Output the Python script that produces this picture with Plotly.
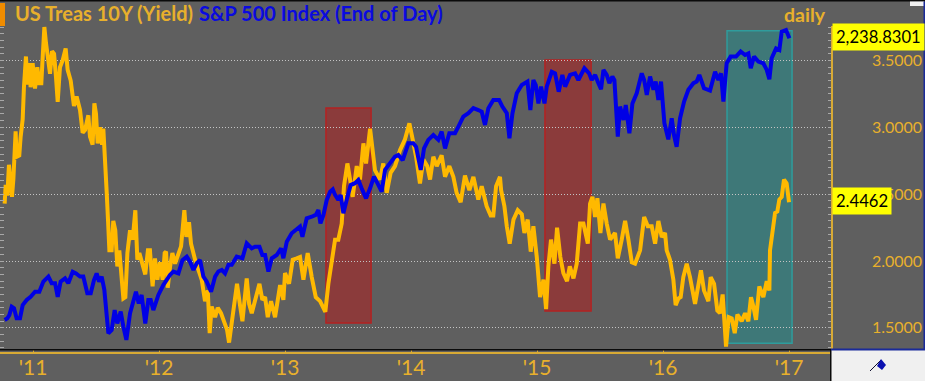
import plotly.graph_objects as go

yield_years = [2010.775,2010.783,2010.796,2010.809,2010.823,2010.833,2010.844,2010.854,2010.862,2010.870,2010.891,2010.902,2010.918,2010.928,2010.944,2010.955,2010.971,2010.981,2010.997,
2011.016,2011.034,2011.050,2011.066,2011.077,2011.090,2011.103,2011.119,2011.135,2011.151,2011.167,2011.182,2011.196,2011.214,2011.235,2011.259,2011.275,2011.299,2011.325,2011.346,2011.373,2011.394,2011.413,2011.439,2011.452,2011.473,2011.487,2011.500,2011.513,2011.532,2011.548,2011.558,2011.574,2011.585,2011.595,2011.606,2011.624,2011.637,2011.653,2011.669,2011.685,2011.701,2011.717,2011.733,2011.749,2011.770,2011.791,2011.812,2011.828,2011.844,2011.870,2011.891,2011.912,2011.928,2011.949,2011.968,2011.987,
2012.008,2012.029,2012.045,2012.056,2012.069,2012.088,2012.106,2012.127,2012.154,2012.175,2012.201,2012.217,2012.238,2012.254,2012.286,2012.313,2012.339,2012.365,2012.387,2012.402,2012.418,2012.445,2012.466,2012.492,2012.519,2012.540,2012.556,2012.577,2012.598,2012.619,2012.641,2012.662,2012.696,2012.715,2012.736,2012.762,2012.797,2012.820,2012.842,2012.863,2012.889,2012.921,2012.961,2012.987,
2013.000,2013.032,2013.061,2013.093,2013.119,2013.146,2013.180,2013.212,2013.244,2013.278,2013.320,2013.344,2013.371,2013.397,2013.423,2013.450,2013.468,2013.495,2013.516,2013.537,2013.569,2013.595,2013.622,2013.643,2013.675,2013.696,2013.714,2013.754,2013.780,2013.807,2013.838,2013.873,2013.913,2013.952,2013.987,
2014.013,2014.040,2014.071,2014.098,2014.129,2014.151,2014.177,2014.204,2014.243,2014.270,2014.304,2014.336,2014.362,2014.394,2014.428,2014.463,2014.495,2014.534,2014.561,2014.600,2014.632,2014.653,2014.675,2014.706,2014.715,2014.741,2014.760,2014.783,2014.813,2014.847,2014.879,2014.900,2014.926,2014.950,2014.971,2014.998,
2015.024,2015.051,2015.072,2015.090,2015.111,2015.138,2015.159,2015.185,2015.209,2015.238,2015.260,2015.289,2015.315,2015.342,2015.368,2015.403,2015.421,2015.440,2015.461,2015.479,2015.503,2015.527,2015.553,2015.580,2015.619,2015.641,2015.672,2015.699,2015.725,2015.752,2015.778,2015.818,2015.850,2015.879,2015.910,2015.937,2015.963,2015.990,
2016.016,2016.029,2016.055,2016.082,2016.100,2016.122,2016.140,2016.161,2016.188,2016.214,2016.254,2016.280,2016.301,2016.325,2016.360,2016.378,2016.405,2016.431,2016.452,2016.473,2016.484,2016.500,2016.521,2016.545,2016.569,2016.590,2016.624,2016.651,2016.677,2016.698,2016.717,2016.738,2016.764,2016.796,2016.823,2016.844,2016.849,2016.870,2016.889,2016.907,2016.923,2016.942,2016.960,2016.981,2017.000]
yield_values = [2.43,2.57,2.49,2.72,2.58,2.48,2.61,2.81,2.97,2.78,2.79,2.93,3.06,3.30,3.53,3.32,3.48,3.30,3.48,
3.29,3.45,3.33,3.33,3.53,3.75,3.63,3.50,3.40,3.57,3.55,3.38,3.19,3.45,3.50,3.59,3.43,3.35,3.16,3.23,3.13,2.96,2.98,3.09,2.93,2.87,3.18,3.10,2.88,3.00,2.87,2.99,2.76,2.51,2.31,2.08,2.08,2.30,2.23,1.96,2.08,1.92,1.72,1.73,2.06,2.23,2.16,2.38,2.01,2.06,1.97,1.90,2.08,2.08,1.81,2.02,1.86,
1.99,1.86,2.06,2.07,1.80,1.96,2.06,1.98,2.05,2.11,2.38,2.18,2.29,2.13,2.01,1.93,1.86,1.70,1.78,1.46,1.66,1.58,1.65,1.61,1.53,1.485,1.39,1.53,1.66,1.83,1.68,1.55,1.87,1.68,1.61,1.71,1.83,1.71,1.73,1.58,1.70,1.58,1.82,1.71,
1.91,1.83,2.01,2.02,2.03,1.86,2.06,1.88,1.73,1.70,1.62,1.83,2.01,2.16,2.16,2.28,2.56,2.73,2.61,2.48,2.71,2.61,2.88,2.73,2.99,2.83,2.68,2.61,2.73,2.51,2.66,2.71,2.83,2.91,3.03,
2.91,2.78,2.58,2.76,2.71,2.61,2.78,2.71,2.79,2.63,2.71,2.63,2.51,2.44,2.64,2.53,2.63,2.46,2.56,2.41,2.34,2.34,2.56,2.63,2.53,2.41,2.26,2.13,2.31,2.38,2.35,2.21,2.31,2.07,2.26,2.03,
1.73,1.86,1.64,1.96,2.16,1.98,2.25,2.03,1.91,1.85,1.96,1.87,1.98,2.28,2.28,2.13,2.43,2.48,2.33,2.47,2.21,2.43,2.28,2.16,2.21,2.02,2.16,2.30,2.16,1.99,1.98,2.08,2.33,2.26,2.26,2.13,2.30,2.18,
2.21,2.08,2.01,1.86,1.67,1.72,1.73,1.88,1.98,1.88,1.68,1.83,1.93,1.78,1.70,1.88,1.83,1.63,1.61,1.75,1.53,1.36,1.58,1.57,1.46,1.60,1.55,1.61,1.55,1.73,1.66,1.56,1.81,1.73,1.85,1.78,2.08,2.21,2.36,2.37,2.46,2.48,2.61,2.58,2.44]

spx_years = [2010.775,2010.796,2010.812,2010.831,2010.849,2010.870,2010.897,2010.918,2010.950,2010.981,
2011.016,2011.050,2011.082,2011.122,2011.148,2011.175,2011.196,2011.219,2011.254,2011.280,2011.315,2011.341,2011.373,2011.399,2011.431,2011.458,2011.484,2011.505,2011.524,2011.545,2011.566,2011.585,2011.598,2011.624,2011.648,2011.669,2011.696,2011.717,2011.741,2011.770,2011.796,2011.817,2011.839,2011.862,2011.891,2011.915,2011.934,2011.955,2011.995,
2012.034,2012.087,2012.114,2012.154,2012.186,2012.220,2012.246,2012.273,2012.299,2012.326,2012.352,2012.379,2012.413,2012.445,2012.471,2012.498,2012.524,2012.551,2012.577,2012.617,2012.662,2012.696,2012.736,2012.762,2012.797,2012.820,2012.842,2012.868,2012.895,2012.934,2012.969,2012.987,
2013.014,2013.053,2013.093,2013.119,2013.138,2013.172,2013.212,2013.244,2013.265,2013.281,2013.305,2013.331,2013.358,2013.379,2013.397,2013.423,2013.442,2013.463,2013.489,2013.521,2013.555,2013.582,2013.608,2013.643,2013.675,2013.706,2013.733,2013.767,2013.794,2013.833,2013.873,2013.899,2013.934,2013.979,
2014.018,2014.040,2014.077,2014.103,2014.137,2014.177,2014.217,2014.243,2014.270,2014.304,2014.349,2014.376,2014.415,2014.455,2014.495,2014.534,2014.561,2014.587,2014.614,2014.653,2014.699,2014.725,2014.760,2014.781,2014.805,2014.839,2014.879,2014.924,2014.947,2014.971,2014.990,
2015.011,2015.032,2015.059,2015.077,2015.117,2015.143,2015.172,2015.201,2015.223,2015.262,2015.302,2015.328,2015.376,2015.413,2015.434,2015.461,2015.487,2015.508,2015.527,2015.553,2015.574,2015.598,2015.614,2015.641,2015.659,2015.686,2015.704,2015.733,2015.757,2015.791,2015.831,2015.850,2015.871,2015.897,2015.924,2015.942,2015.963,2015.984,
2016.011,2016.042,2016.069,2016.087,2016.108,2016.135,2016.167,2016.201,2016.241,2016.267,2016.288,2016.325,2016.373,2016.413,2016.439,2016.460,2016.479,2016.505,2016.537,2016.579,2016.616,2016.651,2016.677,2016.696,2016.722,2016.756,2016.796,2016.823,2016.844,2016.862,2016.897,2016.923,2016.942,2016.976,2017.003]
spx_values = [1175,1181,1193,1225,1219,1181,1181,1231,1250,1262,
1281,1281,1319,1338,1313,1313,1262,1319,1331,1313,1356,1350,1338,1338,1275,1275,1325,1350,1319,1338,1288,1200,1125,1137,1212,1162,1206,1150,1100,1200,1244,1281,1237,1269,1162,1250,1250,1212,1269,
1306,1344,1357,1350,1400,1413,1394,1363,1388,1400,1338,1319,1281,1338,1357,1363,1350,1382,1382,1413,1407,1463,1444,1450,1450,1419,1419,1357,1407,1419,1444,1407,
1469,1501,1519,1526,1488,1557,1563,1570,1588,1538,1570,1626,1657,1666,1645,1626,1645,1576,1626,1682,1689,1701,1670,1632,1670,1714,1689,1657,1739,1764,1789,1795,1776,1839,
1839,1826,1739,1820,1852,1870,1852,1883,1820,1877,1877,1902,1939,1952,1971,1964,1958,1908,1971,2002,2002,1977,1952,1858,1952,2027,2058,2071,1964,2077,2058,
1989,2052,1989,2052,2108,2102,2033,2096,2052,2096,2102,2077,2121,2102,2077,2096,2065,2042,2115,2096,2065,2090,2077,1864,1977,1927,1983,1877,1989,2027,2102,2077,2021,2090,2040,2071,2002,2071,
1914,1854,1933,1870,1826,1933,1996,2040,2065,2071,2096,2046,2037,2108,2077,2102,1996,2140,2165,2165,2184,2171,2177,2121,2165,2146,2140,2115,2080,2159,2196,2190,2259,2265,2234]

year_ticks = [2011, 2012, 2013, 2014, 2015, 2016, 2017]
year_labels = ["'11", "'12", "'13", "'14", "'15", "'16", "'17"]
yield_ticks = [1.5, 2.0, 2.5, 3.0, 3.5]
last_yield = 2.4462
last_spx = 2238.8301
# highlighted windows: start year, end year, low yield, high yield
red_windows = [(2013.325, 2013.683, 1.537, 3.145), (2015.063, 2015.429, 1.626, 3.504)]
teal_window = (2016.508, 2017.024, 1.385, 3.723)

BG = "#5f5f5f"
GOLD = "#ffb900"
LABEL = "#e8b02c"
BLUE = "#0000e6"
W, H = 925, 381
L, R, T, B = 0, 831, 26, 349
YR = [1.342, 3.758]
FONT = "Lato"

fig = go.Figure()
fig.add_trace(go.Scatter(x=[], y=[], yaxis="y3", showlegend=False))
fig.add_trace(go.Scatter(x=yield_years, y=yield_values, mode="lines", yaxis="y",
                         line=dict(color=GOLD, width=4), showlegend=False))
fig.add_trace(go.Scatter(x=spx_years, y=spx_values, mode="lines", yaxis="y2",
                         line=dict(color=BLUE, width=4), showlegend=False))

shapes = []
for x0, x1, y0, y1 in red_windows:
    shapes.append(dict(type="rect", xref="x", yref="y", x0=x0, x1=x1, y0=y0, y1=y1, layer="below",
                       fillcolor="rgba(175,30,30,0.55)", line=dict(color="#b42222", width=1.5)))
x0, x1, y0, y1 = teal_window
shapes.append(dict(type="rect", xref="x", yref="y", x0=x0, x1=x1, y0=y0, y1=y1, layer="below",
                   fillcolor="rgba(30,145,145,0.5)", line=dict(color="#2f9c9c", width=1.5)))


def chrome(kind, x0, y0, x1, y1, fill=None, color=None, width=1):
    d = dict(type=kind, xref="paper", yref="paper", x0=x0, x1=x1, y0=y0, y1=y1,
             layer="above", line=dict(width=0 if color is None else width, color=color or "rgba(0,0,0,0)"))
    if fill:
        d["fillcolor"] = fill
    return d


def box(x0, y0, x1, y1, fill):
    return chrome("rect", (x0 - L) / (R - L), (B - y0) / (B - T), (x1 - L) / (R - L), (B - y1) / (B - T), fill=fill)


shapes += [
    box(0, 0, W, 1.5, "#0a0a0a"),
    box(0, 3, 5, 26, "#f08c00"),
    box(910, 1.5, 924, 6, "#f0f0f0"),
    box(923.5, 1.5, 925, 350, "#1a2a9a"),
    box(0, 349, 831, 350.5, "#0a0a0a"),
    box(0, 352, 831, 354, "#d8aa35"),
    box(831, 350, W, H, "#f0f0f0"),
    box(830, 349, 831.5, H, "#0a0a0a"),
    box(831, 348.5, W, 350.5, "#1a2a9a"),
    chrome("line", 870 / R, (B - 371) / (B - T), 881 / R, (B - 360) / (B - T), color="#101030", width=1),
    dict(type="path", xref="paper", yref="paper", layer="above", fillcolor="#0a10b0", line=dict(width=0),
         path=" ".join([f"M {881 / R} {(B - 359) / (B - T)}", f"L {886 / R} {(B - 365) / (B - T)}",
                        f"L {882 / R} {(B - 370) / (B - T)}", f"L {877 / R} {(B - 366) / (B - T)} Z"])),
]

annotations = [
    dict(xref="paper", yref="paper", x=13 / R, y=(B - 13) / (B - T), xanchor="left", yanchor="middle", showarrow=False,
         text="US Treas 10Y (Yield)", font=dict(family=FONT, size=20, color=LABEL, weight="bold")),
    dict(xref="paper", yref="paper", x=197 / R, y=(B - 13) / (B - T), xanchor="left", yanchor="middle", showarrow=False,
         text="S&P 500 Index (End of Day)", font=dict(family=FONT, size=20, color="#0a0ae0", weight="bold")),
    dict(xref="paper", yref="paper", x=782 / R, y=(B - 14) / (B - T), xanchor="left", yanchor="middle", showarrow=False,
         text="daily", font=dict(family=FONT, size=19.5, color=LABEL, weight="bold")),
    dict(xref="x", yref="y2", x=2017.333, y=last_spx, xanchor="left", yanchor="middle", showarrow=False,
         xshift=1, text=f"{last_spx:,.4f}", bgcolor="#ffff00", borderpad=3,
         font=dict(family=FONT, size=16.6, color="#000000")),
    dict(xref="x", yref="y", x=2017.333, y=last_yield, xanchor="left", yanchor="middle", showarrow=False,
         xshift=1, text=f"{last_yield:.4f}", bgcolor="#ffff00", borderpad=3,
         font=dict(family=FONT, size=16.6, color="#000000")),
]

fig.update_layout(
    width=W, height=H, autosize=False,
    paper_bgcolor=BG, plot_bgcolor=BG,
    margin=dict(l=L, r=W - R, t=T, b=H - B, pad=0),
    showlegend=False, hovermode=False,
    shapes=shapes, annotations=annotations,
    xaxis=dict(range=[2010.738, 2017.333], tickmode="array", tickvals=year_ticks, ticktext=year_labels,
               automargin=False,
               showgrid=False, zeroline=False, showline=False, ticks="outside", ticklen=4,
               tickcolor="#d8aa35", tickwidth=1, ticklabelstandoff=-4,
               tickfont=dict(family=FONT, size=21, color=LABEL)),
    yaxis=dict(range=YR, side="right", tickmode="array", tickvals=yield_ticks, ticktext=[f"{v:.4f}" for v in yield_ticks],
               automargin=False,
               ticks="", showgrid=True, gridcolor="#c4c4c4", griddash="1px,2px", gridwidth=1,
               zeroline=False, showline=True, linecolor="#d8aa35", linewidth=1.5, ticklabelstandoff=36,
               tickfont=dict(family=FONT, size=16, color=LABEL),
               minor=dict(tickmode="linear", tick0=1.5, dtick=0.05, ticks="inside", ticklen=3,
                          tickcolor="#a8a8a8", showgrid=False)),
    yaxis2=dict(range=[1065.7, 2280], overlaying="y", side="right", showgrid=False, zeroline=False,
                automargin=False, showticklabels=False, ticks="", showline=False),
    yaxis3=dict(range=YR, overlaying="y", side="left", showticklabels=False, showline=False, zeroline=False,
                automargin=False, showgrid=False, tickmode="linear", tick0=1.5, dtick=0.05, ticks="inside", ticklen=4,
                tickcolor="#a8a8a8", layer="above traces",
                minor=dict(tickmode="linear", tick0=1.75, dtick=0.5, showgrid=True, gridcolor="#c4c4c4",
                           griddash="5px,10px", gridwidth=1, ticks="")),
)
fig.write_html("out.html", config=dict(displayModeBar=False),
               post_script="document.body.style.margin='0';document.documentElement.style.overflow='hidden';")
